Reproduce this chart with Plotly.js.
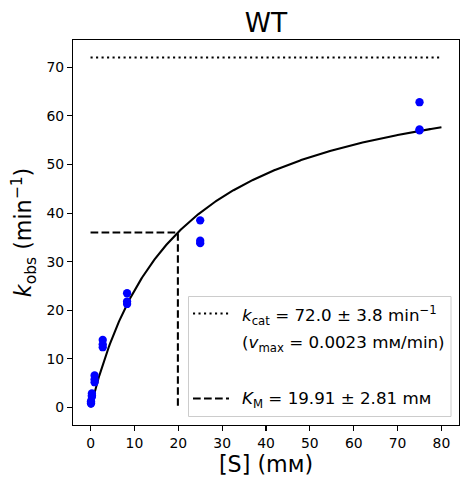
<!DOCTYPE html>
<html>
<head>
<meta charset="utf-8">
<script src="https://cdn.plot.ly/plotly-3.0.1.min.js"></script>
<style>html,body{margin:0;padding:0;background:#fff;}#chart{width:469px;height:484px;}</style>
</head>
<body>
<div id="chart"></div>
<script>
// Substrate concentrations (mM) and observed rates (min^-1)
const substrate = [0.103, 0.103, 0.103, 0.309, 0.309, 0.309, 0.926, 0.926, 0.926,
                   2.78, 2.78, 2.78, 8.33, 8.33, 8.33, 25, 25, 25, 75, 75, 75];
const kobs = [0.8, 1.0, 1.3, 2.2, 2.5, 2.9, 5.2, 5.8, 6.6,
              12.4, 13.0, 13.9, 21.3, 21.8, 23.5, 33.8, 34.3, 38.5, 57.0, 57.2, 62.8];
// Fitted Michaelis-Menten parameters (from the legend)
const kcat = 72.0;
const kcatErr = 3.8;
const KM = 19.91;
const KMErr = 2.81;
const vmax = 0.0023;
const fitRange = [0, 80];
const xTicks = [0, 10, 20, 30, 40, 50, 60, 70, 80];
const yTicks = [0, 10, 20, 30, 40, 50, 60, 70];

// Fit curve from the Michaelis-Menten model
const fitX = [], fitY = [];
for (let i = 0; i <= 400; i++) {
  const s = fitRange[0] + (fitRange[1] - fitRange[0]) * i / 400;
  fitX.push(s);
  fitY.push(kcat * s / (KM + s));
}

const F = 'DejaVu Sans, Liberation Sans, sans-serif';
const lw = 2.08;
const traces = [
  {x: fitX, y: fitY, mode: 'lines', line: {color: '#000', width: lw}, showlegend: false, hoverinfo: 'skip'},
  {x: fitRange, y: [kcat, kcat], mode: 'lines', line: {color: '#000', width: lw, dash: '2.1px,3.4px'}, showlegend: false},
  {x: [0, KM, KM], y: [kcat / 2, kcat / 2, 0], mode: 'lines', line: {color: '#000', width: lw, dash: '7.7px,3.3px'}, showlegend: false},
  {x: substrate, y: kobs, mode: 'markers', marker: {color: '#0000ff', size: 8.3}, showlegend: false}
];

// Legend geometry (paper coords)
const L = 73, R = 10, T = 40, B = 59, W = 469, H = 484;
const pw = W - L - R, ph = H - T - B;
const px = v => (v - L) / pw;
const py = v => (H - B - v) / ph;

const shapes = [
  {type: 'rect', xref: 'paper', yref: 'paper', x0: px(188.5), x1: px(451), y0: py(416.5), y1: py(296.5),
   line: {color: '#cccccc', width: 1}, fillcolor: 'rgba(255,255,255,0.8)', layer: 'above'},
  {type: 'line', xref: 'paper', yref: 'paper', x0: px(193), x1: px(229), y0: py(313.5), y1: py(313.5),
   line: {color: '#000', width: lw, dash: '2.1px,3.4px'}, layer: 'above'},
  {type: 'line', xref: 'paper', yref: 'paper', x0: px(193), x1: px(229), y0: py(398.5), y1: py(398.5),
   line: {color: '#000', width: lw, dash: '7.7px,3.3px'}, layer: 'above'}
];

const legFont = {family: F, size: 16.7, color: '#000'};
const annotations = [
  {xref: 'paper', yref: 'paper', x: px(240), y: py(315), xanchor: 'left', yanchor: 'middle', showarrow: false, font: legFont,
   text: '<i>k</i><sub>cat</sub> = ' + kcat.toFixed(1) + ' ± ' + kcatErr.toFixed(1) + ' min<sup>−1</sup>'},
  {xref: 'paper', yref: 'paper', x: px(240), y: py(343), xanchor: 'left', yanchor: 'middle', showarrow: false, font: legFont,
   text: '(<i>v</i><sub>max</sub> = ' + vmax.toFixed(4) + ' mᴍ/min)'},
  {xref: 'paper', yref: 'paper', x: px(240), y: py(399), xanchor: 'left', yanchor: 'middle', showarrow: false, font: legFont,
   text: '<i>K</i><sub>M</sub> = ' + KM.toFixed(2) + ' ± ' + KMErr.toFixed(2) + ' mᴍ'}
];

const axisBase = {
  showline: true, mirror: true, linecolor: '#000', linewidth: 1.1,
  ticks: 'outside', ticklen: 5, tickwidth: 1.1, tickcolor: '#000',
  showgrid: false, zeroline: false,
  tickfont: {family: F, size: 13.9, color: '#000'}
};

const layout = {
  width: W, height: H,
  margin: {l: L, r: R, t: T, b: B, pad: 0},
  paper_bgcolor: '#fff', plot_bgcolor: '#fff',
  showlegend: false,
  title: {text: 'WT', font: {family: F, size: 26.5, color: '#000'}, x: 0.5, xref: 'paper', y: 1 - 22.5 / H, yref: 'container', yanchor: 'middle'},
  xaxis: Object.assign({}, axisBase, {
    range: [-4, 84], tickvals: xTicks, ticktext: xTicks.map(String),
    title: {text: '[S] (mᴍ)', font: {family: F, size: 22.2, color: '#000'}, standoff: 3}
  }),
  yaxis: Object.assign({}, axisBase, {
    range: [-3.6, 75.6], tickvals: yTicks, ticktext: yTicks.map(String),
    title: {text: '<i>k</i><sub>obs</sub> (min<sup>−1</sup>)', font: {family: F, size: 22.2, color: '#000'}, standoff: 8}
  }),
  shapes: shapes,
  annotations: annotations
};

Plotly.newPlot('chart', traces, layout, {displayModeBar: false, staticPlot: true});
</script>
</body>
</html>
